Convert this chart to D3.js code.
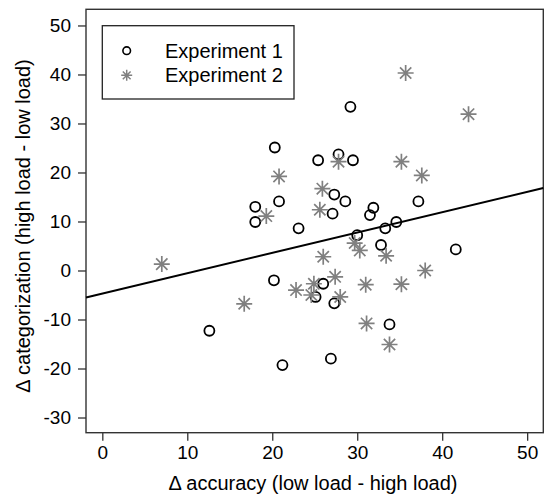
<!DOCTYPE html>
<html>
<head>
<meta charset="utf-8">
<script src="https://cdn.jsdelivr.net/npm/d3@7"></script>
<style>
    body { margin: 0; background: #fff; }
    svg text { font-family: "Liberation Sans", Arial, sans-serif; fill: #000; }
</style>
</head>
<body>
<div class="graph"></div>
<script>
// Experiment 1 (circles)
const exp1X = [29.2, 20.3, 25.4, 27.8, 29.5, 18.0, 18.0, 20.8, 23.1, 27.3, 28.6, 27.1, 31.9, 31.5,
    37.2, 33.3, 34.6, 30.0, 32.8, 41.6, 20.2, 26.0, 25.1, 27.3, 33.8, 21.2, 26.9, 12.6];
const exp1Y = [33.4, 25.1, 22.5, 23.7, 22.5, 13.0, 9.9, 14.1, 8.6, 15.5, 14.1, 11.6, 12.8, 11.3,
    14.1, 8.6, 9.9, 7.2, 5.2, 4.3, -2.0, -2.7, -5.4, -6.7, -11.0, -19.3, -18.0, -12.3];

// Experiment 2 (asterisks)
const exp2X = [35.7, 43.1, 35.2, 37.6, 27.8, 20.8, 19.3, 25.9, 25.6, 29.7, 30.3, 26.0, 27.4,
    24.9, 22.8, 24.6, 28.0, 31.0, 16.7, 35.2, 38.0, 33.4, 31.1, 33.8, 7.0];
const exp2Y = [40.3, 31.9, 22.2, 19.4, 22.2, 19.2, 11.1, 16.7, 12.4, 5.6, 4.1, 2.8, -1.3,
    -2.7, -4.0, -5.0, -5.4, -2.9, -6.8, -2.8, 0.0, 3.0, -10.8, -15.1, 1.3];

// fitted line
const lineIntercept = -4.7;
const lineSlope = 0.415;

const xTicks = [0, 10, 20, 30, 40, 50];
const yTicks = [-30, -20, -10, 0, 10, 20, 30, 40, 50];
const legendLabels = ["Experiment 1", "Experiment 2"];

const width = 548, height = 498;
const margin = {top: 9.3, right: 4.7, bottom: 65.3, left: 86};

const svg = d3.select('.graph')
    .append("svg")
        .attr("width", width)
        .attr("height", height);

const x = d3.scaleLinear()
    .domain([-1.92, 51.9])
    .range([margin.left, width - margin.right]);

const y = d3.scaleLinear()
    .domain([-33.1, 53.3])
    .range([height - margin.bottom, margin.top]);

// plain hyphen for negatives, like the original
const fmt = function (d) { return String(d); };

// axes
const xAxis = svg.append("g")
    .attr("transform", "translate(0," + (height - margin.bottom) + ")")
    .call(d3.axisBottom(x).tickValues(xTicks).tickFormat(fmt).tickSize(8).tickSizeOuter(0).tickPadding(5));
xAxis.select(".domain").remove();
xAxis.selectAll("line").attr("stroke", "#333").attr("stroke-width", 1.3);
xAxis.selectAll("text").attr("font-size", 19).attr("fill", "#000");

const yAxis = svg.append("g")
    .attr("transform", "translate(" + margin.left + ",0)")
    .call(d3.axisLeft(y).tickValues(yTicks).tickFormat(fmt).tickSize(8).tickSizeOuter(0).tickPadding(7));
yAxis.select(".domain").remove();
yAxis.selectAll("line").attr("stroke", "#333").attr("stroke-width", 1.3);
yAxis.selectAll("text").attr("font-size", 19).attr("fill", "#000");

// frame
svg.append("rect")
    .attr("x", x.range()[0])
    .attr("y", y.range()[1])
    .attr("width", x.range()[1] - x.range()[0])
    .attr("height", y.range()[0] - y.range()[1])
    .attr("fill", "none")
    .attr("stroke", "#333")
    .attr("stroke-width", 1.4);

// axis titles
svg.append("text")
    .attr("x", 313)
    .attr("y", 490)
    .attr("text-anchor", "middle")
    .attr("font-size", 20)
    .text("\u0394 accuracy (low load - high load)");

svg.append("text")
    .attr("transform", "translate(30,226) rotate(-90)")
    .attr("text-anchor", "middle")
    .attr("font-size", 20)
    .text("\u0394 categorization (high load - low load)");

// regression line
const xd = x.domain();
svg.append("line")
    .attr("x1", x(xd[0]))
    .attr("y1", y(lineIntercept + lineSlope * xd[0]))
    .attr("x2", x(xd[1]))
    .attr("y2", y(lineIntercept + lineSlope * xd[1]))
    .attr("stroke", "#000")
    .attr("stroke-width", 2);

// asterisk path (8 arms)
function starPath(r) {
    let d = "";
    for (let k = 0; k < 4; k++) {
        const a = k * Math.PI / 4;
        const dx = r * Math.cos(a), dy = r * Math.sin(a);
        d += "M" + (-dx) + "," + (-dy) + "L" + dx + "," + dy;
    }
    return d;
}

const exp1 = exp1X.map(function (v, i) { return {x: v, y: exp1Y[i]}; });
const exp2 = exp2X.map(function (v, i) { return {x: v, y: exp2Y[i]}; });

svg.append("g")
    .selectAll("circle")
    .data(exp1)
    .enter().append("circle")
        .attr("cx", function (d) { return x(d.x); })
        .attr("cy", function (d) { return y(d.y); })
        .attr("r", 5)
        .attr("fill", "none")
        .attr("stroke", "#000")
        .attr("stroke-width", 1.8);

svg.append("g")
    .selectAll("path")
    .data(exp2)
    .enter().append("path")
        .attr("transform", function (d) { return "translate(" + x(d.x) + "," + y(d.y) + ")"; })
        .attr("d", starPath(8))
        .attr("fill", "none")
        .attr("stroke", "#808080")
        .attr("stroke-width", 1.7);

// legend
const legend = svg.append("g");
legend.append("rect")
    .attr("x", 102.3)
    .attr("y", 25.7)
    .attr("width", 191.7)
    .attr("height", 73.3)
    .attr("fill", "#fff")
    .attr("stroke", "#222")
    .attr("stroke-width", 1.3);

legend.append("circle")
    .attr("cx", 126.7)
    .attr("cy", 50.7)
    .attr("r", 3.8)
    .attr("fill", "none")
    .attr("stroke", "#000")
    .attr("stroke-width", 1.6);

legend.append("path")
    .attr("transform", "translate(126.7,75.3)")
    .attr("d", starPath(5.5))
    .attr("fill", "none")
    .attr("stroke", "#808080")
    .attr("stroke-width", 1.5);

legend.selectAll("text")
    .data(legendLabels)
    .enter().append("text")
        .attr("x", 165)
        .attr("y", function (d, i) { return 50.7 + i * 24.6; })
        .attr("dy", "0.35em")
        .attr("font-size", 20)
        .text(function (d) { return d; });
</script>
</body>
</html>
